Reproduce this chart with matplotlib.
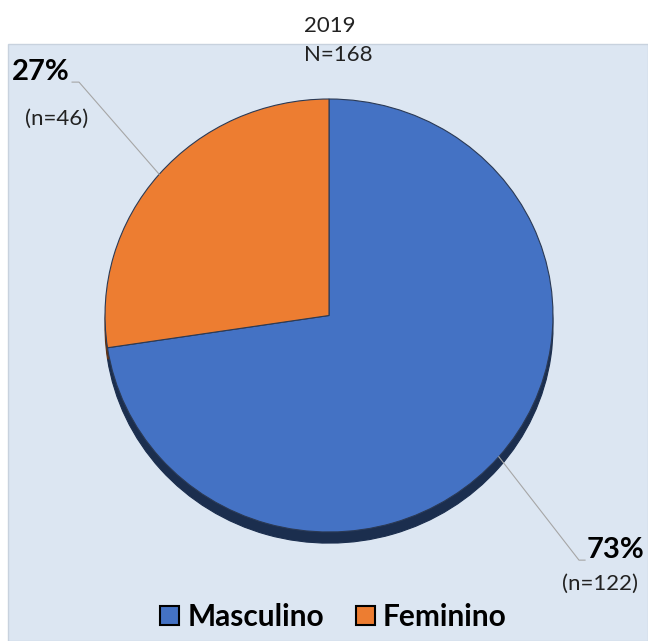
import numpy as np
import matplotlib
matplotlib.use('Agg')
import matplotlib.pyplot as plt
from matplotlib.patches import Rectangle, Patch

# data
categories = ['Masculino', 'Feminino']
counts = [122, 46]
colors = ['#4472C4', '#ED7D31']
year = '2019'

total = sum(counts)
plt.rcParams['font.family'] = ['Lato', 'DejaVu Sans']

fig = plt.figure(figsize=(6.48, 6.41), dpi=100)
fig.patch.set_facecolor('white')

# light blue chart area
fig.patches.append(Rectangle((8 / 648, 0), 1 - 8 / 648, 1 - 44 / 641,
                             transform=fig.transFigure, facecolor='#DCE6F2',
                             edgecolor='#C8D2DE', lw=1, zorder=-10))

# pie is slightly squashed (3D tilt look), so no equal aspect
ax = fig.add_axes([105 / 648, (641 - 532) / 641, 448 / 648, 433 / 641])
ax.set_zorder(5)
wedges, _ = ax.pie(counts, colors=colors, startangle=90, counterclock=False,
                   radius=1, wedgeprops=dict(edgecolor='#2B3A55', linewidth=0.8),
                   shadow={'ox': 0.0, 'oy': -0.037, 'shade': 0.6, 'alpha': 1.0})
ax.set_xlim(-1, 1)
ax.set_ylim(-1, 1)
ax.set_aspect('auto')
ax.axis('off')

# label placement (data units)
label_pos = {
    'Feminino': dict(pct=(-1.288, 1.125), n=(-1.217, 0.908), elbow=(-1.116, 1.078), end=(-1.147, 1.078)),
    'Masculino': dict(pct=(1.281, -1.083), n=(1.210, -1.240), elbow=(1.116, -1.130), end=(1.143, -1.130)),
}

for w, cat, c in zip(wedges, categories, counts):
    mid = np.deg2rad((w.theta1 + w.theta2) / 2)
    edge = (np.cos(mid), np.sin(mid))
    p = label_pos[cat]
    ax.plot([edge[0], p['elbow'][0], p['end'][0]], [edge[1], p['elbow'][1], p['end'][1]],
            color='#A6A6A6', lw=0.8, clip_on=False)
    pct = round(100 * c / total)
    ax.text(*p['pct'], f'{pct}%', ha='center', va='center', fontsize=21,
            fontweight='bold', color='black', clip_on=False)
    ax.text(*p['n'], f'(n={c})', ha='center', va='center', fontsize=16,
            color='#222222', clip_on=False)

fig.text(330 / 648, 1 - 26 / 641, year, ha='center', va='center', fontsize=16, color='#222222')
fig.text(338 / 648, 1 - 55 / 641, f'N={total}', ha='center', va='center', fontsize=16, color='#222222')

handles = [Patch(facecolor=col, edgecolor='black', linewidth=1.5) for col in colors]
fig.legend(handles, categories, loc='center', bbox_to_anchor=(333.5 / 648, 1 - 617 / 641),
           ncol=2, frameon=False, prop=dict(weight='bold', size=21.5),
           handlelength=0.64, handleheight=0.64, handletextpad=0.27, columnspacing=1.07)

fig.savefig('out.png', dpi=100, facecolor=fig.get_facecolor())
